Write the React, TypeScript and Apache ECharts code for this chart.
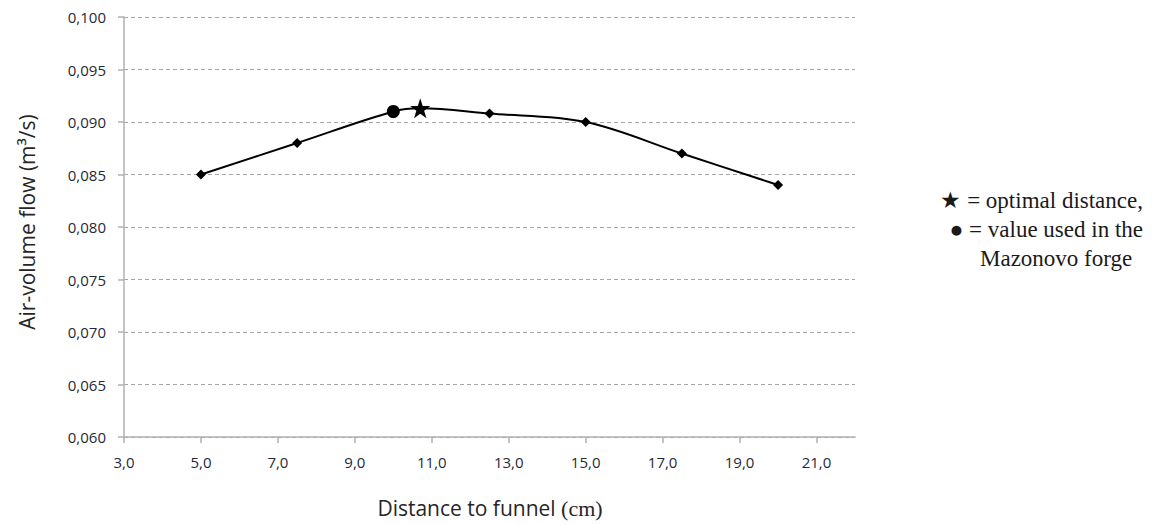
import React, { useEffect, useRef } from "react";
import * as echarts from "echarts";

const distances = [5, 7.5, 10, 10.7, 12.5, 15, 17.5, 20];
const airflow = [0.085, 0.088, 0.091, 0.0913, 0.0908, 0.09, 0.087, 0.084];
const markerKinds = ["diamond", "diamond", "circle", "star", "diamond", "diamond", "diamond", "diamond"];
const legendLines = ["★ = optimal distance,", "● = value used in the", "Mazonovo forge"];

const STAR =
  "path://M50,0 L61.8,35.1 L98.9,35.1 L69,57.3 L80.3,92.7 L50,70.8 L19.7,92.7 L31,57.3 L1.1,35.1 L38.2,35.1 Z";

export default function App() {
  const ref = useRef<HTMLDivElement>(null);
  useEffect(() => {
    const chart = echarts.init(ref.current!, undefined, { renderer: "svg" });
    const data = distances.map((d, i) => {
      const k = markerKinds[i];
      return {
        value: [d, airflow[i]],
        symbol: k === "star" ? STAR : k,
        symbolSize: k === "star" ? 20 : k === "circle" ? 13 : 10,
      };
    });
    const legendStyle = { fontFamily: "Liberation Serif", fontSize: 23, fill: "#1a1a1a", verticalAlign: "middle" };
    chart.setOption({
      animation: false,
      grid: { left: 124, right: 297, top: 17, bottom: 87, containLabel: false },
      xAxis: {
        type: "value",
        min: 3,
        max: 22,
        interval: 2,
        axisLine: { show: true, lineStyle: { color: "#b0b0b0", width: 1.5 } },
        axisTick: { show: true, length: 6, lineStyle: { color: "#b0b0b0", width: 1.5 } },
        splitLine: { show: false },
        axisLabel: {
          showMaxLabel: false,
          color: "#1f2a36",
          fontFamily: "Open Sans",
          fontSize: 15,
          margin: 17,
          formatter: (v: number) => (v > 21.5 ? "" : v.toFixed(1).replace(".", ",")),
        },
      },
      yAxis: {
        type: "value",
        min: 0.06,
        max: 0.1,
        interval: 0.005,
        axisLine: { show: true, lineStyle: { color: "#b0b0b0", width: 1.5 } },
        axisTick: { show: true, inside: false, length: 6, lineStyle: { color: "#b0b0b0", width: 1.5 } },
        splitLine: { show: true, lineStyle: { color: "#a6a6a6", type: [4, 3], width: 1 } },
        axisLabel: {
          color: "#1f2a36",
          fontFamily: "Open Sans",
          fontSize: 15,
          margin: 18,
          formatter: (v: number) => v.toFixed(3).replace(".", ","),
        },
      },
      series: [
        {
          type: "line",
          data,
          smooth: 0.35,
          lineStyle: { color: "#000", width: 2 },
          itemStyle: { color: "#000" },
          showAllSymbol: true,
          z: 3,
        },
      ],
      graphic: [
        {
          type: "text",
          x: 490,
          y: 508,
          style: {
            text: "{a|Distance to funnel }{b|(cm)}",
            align: "center",
            verticalAlign: "middle",
            rich: {
              a: { fontFamily: "Open Sans", fontSize: 21, fill: "#262626" },
              b: { fontFamily: "Liberation Serif", fontSize: 22, fill: "#262626" },
            },
          },
        },
        {
          type: "text",
          x: 27,
          y: 222,
          rotation: Math.PI / 2,
          style: {
            text: "{a|Air-volume flow }{b|(m³/s)}",
            align: "center",
            verticalAlign: "middle",
            rich: {
              a: { fontFamily: "Open Sans", fontSize: 21, fill: "#262626" },
              b: { fontFamily: "Open Sans", fontSize: 21, fill: "#262626" },
            },
          },
        },
        { type: "text", x: 1143, y: 200, style: { ...legendStyle, text: legendLines[0], align: "right" } },
        { type: "text", x: 1143, y: 229, style: { ...legendStyle, text: legendLines[1], align: "right" } },
        { type: "text", x: 980, y: 258, style: { ...legendStyle, text: legendLines[2], align: "left" } },
      ],
    });
    return () => chart.dispose();
  }, []);
  return <div ref={ref} style={{ width: 1152, height: 524, position: "absolute", left: 0, top: 0 }} />;
}
